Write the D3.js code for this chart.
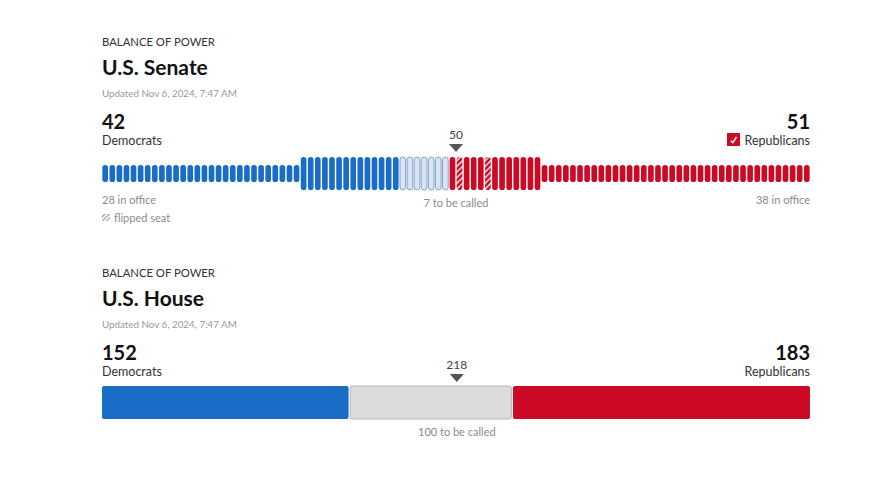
<!DOCTYPE html>
<html><head><meta charset="utf-8">
<script src="https://cdn.jsdelivr.net/npm/d3@7"></script>
<style>
body{margin:0;background:#fff;}
text{font-family:Lato,"Noto Sans",sans-serif;}
</style></head>
<body><svg id="c" width="890" height="490"></svg>
<script>
// ---- data ----
const senateGroups = ["Democrats in office","Democrats won","To be called","Republicans won","Republicans in office"];
const senateCounts = [28, 14, 7, 13, 38];
const senateFlippedSeats = [50, 54];   // seat index (0-based) of flipped seats
const senateTotals = {dem: 42, rep: 51};
const senateMajority = 50;
const houseGroups = ["Democrats","To be called","Republicans"];
const houseCounts = [152, 100, 183];
const houseMajority = 218;
const labels = {
  kicker: "BALANCE OF POWER",
  updated: "Updated Nov 6, 2024, 7:47 AM"
};

const BLUE = "#1a6dc6", RED = "#cc0a26", GREY_TXT = "#8a8a8a";
const svg = d3.select("#c");
const defs = svg.append("defs");
const pat = defs.append("pattern").attr("id","hatch").attr("patternUnits","userSpaceOnUse")
  .attr("width",4).attr("height",4).attr("patternTransform","rotate(45)");
pat.append("rect").attr("width",4).attr("height",4).attr("fill",RED);
pat.append("rect").attr("width",1.3).attr("height",4).attr("fill","#fff");
const patG = defs.append("pattern").attr("id","hatchG").attr("patternUnits","userSpaceOnUse")
  .attr("width",3).attr("height",3).attr("patternTransform","rotate(45)");
patG.append("rect").attr("width",1.2).attr("height",3).attr("fill","#999");

const X0 = 102, X1 = 810;

function header(y0, title){
  svg.append("text").attr("x",X0).attr("y",y0).attr("font-size",11.3).attr("fill","#333").text(labels.kicker);
  svg.append("text").attr("x",X0).attr("y",y0+29).attr("font-size",21).attr("font-weight",700).attr("fill","#111").text(title);
  svg.append("text").attr("x",X0).attr("y",y0+51).attr("font-size",9.8).attr("fill","#999").text(labels.updated);
}
function marker(x, yText, value){
  svg.append("text").attr("x",x).attr("y",yText).attr("text-anchor","middle").attr("font-size",12).attr("fill","#444").text(value);
  svg.append("path").attr("d",`M${x-7},${yText+5}L${x+7},${yText+5}L${x},${yText+13}Z`).attr("fill","#555");
}

// ---- Senate ----
header(46, "U.S. Senate");
const seats = [];
senateCounts.forEach((n,gi)=>{ for(let k=0;k<n;k++) seats.push({i:seats.length, g:gi}); });
const xs = d3.scaleBand().domain(seats.map(d=>d.i)).range([X0,X1]).paddingInner(0.2).paddingOuter(0.05);
const tallH = 33, smallH = 17, cy = 173.5;
svg.append("g").selectAll("rect").data(seats).join("rect")
  .attr("x",d=>xs(d.i))
  .attr("width",xs.bandwidth())
  .attr("y",d=>cy - ((d.g===0||d.g===4)?smallH:tallH)/2)
  .attr("height",d=>(d.g===0||d.g===4)?smallH:tallH)
  .attr("rx",xs.bandwidth()/2)
  .attr("fill",d=> d.g===2 ? "#d9e3f2" : (d.g<2 ? BLUE : (senateFlippedSeats.includes(d.i) ? "url(#hatch)" : RED)))
  .attr("stroke",d=> d.g===2 ? "#86a3cf" : "none")
  .attr("stroke-width",1);

svg.append("text").attr("x",X0).attr("y",128.5).attr("font-size",20).attr("font-weight",700).attr("fill","#111").text(senateTotals.dem);
svg.append("text").attr("x",X0).attr("y",145).attr("font-size",12.5).attr("fill","#333").text("Democrats");
svg.append("text").attr("x",X1).attr("y",128.5).attr("text-anchor","end").attr("font-size",20).attr("font-weight",700).attr("fill","#111").text(senateTotals.rep);
svg.append("text").attr("x",X1).attr("y",145).attr("text-anchor","end").attr("font-size",12.5).attr("fill","#333").text("Republicans");
svg.append("rect").attr("x",727).attr("y",133).attr("width",13).attr("height",13).attr("fill",RED);
svg.append("path").attr("d","M730.8,140.8L732.8,142.6L736.5,137").attr("fill","none").attr("stroke","#fff").attr("stroke-width",1.5);
const mSen = xs(senateMajority) - (xs.step()*xs.paddingInner())/2;
marker(mSen, 139, senateMajority);
svg.append("text").attr("x",X0).attr("y",204).attr("font-size",11).attr("fill",GREY_TXT).text(senateCounts[0]+" in office");
svg.append("text").attr("x",X1).attr("y",204).attr("text-anchor","end").attr("font-size",11).attr("fill",GREY_TXT).text(senateCounts[4]+" in office");
svg.append("text").attr("x",mSen).attr("y",207).attr("text-anchor","middle").attr("font-size",11).attr("fill",GREY_TXT).text(senateCounts[2]+" to be called");
svg.append("rect").attr("x",X0).attr("y",214).attr("width",8).attr("height",7).attr("fill","url(#hatchG)");
svg.append("text").attr("x",X0+12).attr("y",222).attr("font-size",11).attr("fill",GREY_TXT).text("flipped seat");

// ---- House ----
header(277, "U.S. House");
const houseTotal = d3.sum(houseCounts);
const xh = d3.scaleLinear().domain([0,houseTotal]).range([X0,X1]);
const cum = d3.cumsum(houseCounts);
const hdata = houseCounts.map((n,i)=>({g:houseGroups[i], s: i?cum[i-1]:0, e: cum[i]}));
svg.append("g").selectAll("rect").data(hdata).join("rect")
  .attr("x",(d,i)=>xh(d.s)+(i?0.8:0))
  .attr("width",(d,i)=>xh(d.e)-xh(d.s)-(i?0.8:0)-(i<2?0.8:0))
  .attr("y",386).attr("height",33).attr("rx",2)
  .attr("fill",(d,i)=>[BLUE,"#dcdcdc",RED][i])
  .attr("stroke",(d,i)=>i===1?"#b5b5b5":"none");
svg.append("text").attr("x",X0).attr("y",359.5).attr("font-size",20).attr("font-weight",700).attr("fill","#111").text(houseCounts[0]);
svg.append("text").attr("x",X0).attr("y",376).attr("font-size",12.5).attr("fill","#333").text(houseGroups[0]);
svg.append("text").attr("x",X1).attr("y",359.5).attr("text-anchor","end").attr("font-size",20).attr("font-weight",700).attr("fill","#111").text(houseCounts[2]);
svg.append("text").attr("x",X1).attr("y",376).attr("text-anchor","end").attr("font-size",12.5).attr("fill","#333").text(houseGroups[2]);
marker(xh(houseMajority), 369, houseMajority);
svg.append("text").attr("x",xh(houseMajority)).attr("y",436).attr("text-anchor","middle").attr("font-size",11).attr("fill",GREY_TXT).text(houseCounts[1]+" to be called");
</script></body></html>
